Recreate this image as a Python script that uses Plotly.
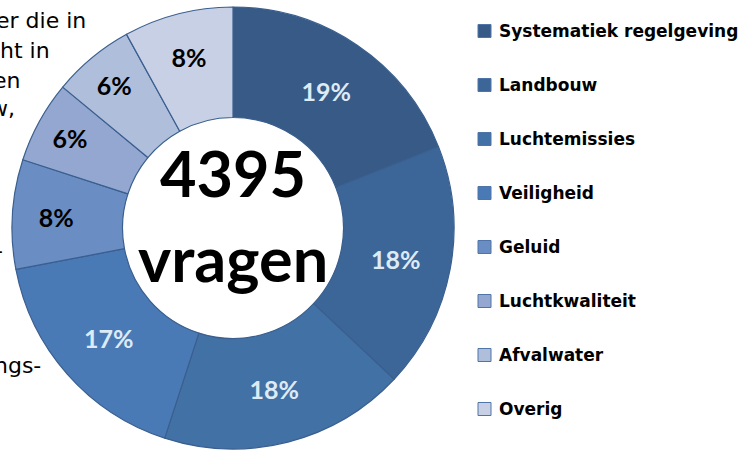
import plotly.graph_objects as go

categories = ["Systematiek regelgeving", "Landbouw", "Luchtemissies", "Veiligheid",
              "Geluid", "Luchtkwaliteit", "Afvalwater", "Overig"]
shares = [19, 18, 18, 17, 8, 6, 6, 8]
colors = ["#375A87", "#3D6698", "#4271A6", "#4A7AB5",
          "#6A8EC4", "#94A7D0", "#AFBEDB", "#C8D0E5"]
label_colors = ["#DDEBF7", "#DDEBF7", "#DDEBF7", "#DDEBF7",
                "#000000", "#000000", "#000000", "#000000"]
total_questions = 4395
side_text = [("er die in", 88, 20), ("ht in", 52, 50), ("en", 22, 80), ("w,", 17, 108),
             ("-", 5, 251), ("ngs-", 43, 365)]

W, H = 741, 453
cx, cy, r = 233, 228, 221

fig = go.Figure()
fig.add_trace(go.Pie(
    labels=categories, values=shares, sort=False, direction="clockwise", rotation=0,
    hole=0.5,
    marker=dict(colors=colors, line=dict(color="#3A5F8F", width=1.2)),
    texttemplate="%{value}%", textposition="inside", insidetextorientation="horizontal",
    insidetextfont=dict(family="Lato", size=25, color=label_colors, weight="bold"),
    domain=dict(x=[(cx - r) / W, (cx + r) / W], y=[(H - cy - r) / H, (H - cy + r) / H]),
    showlegend=False, hoverinfo="label+percent",
))

ann = []
ann.append(dict(x=cx / W, y=(H - 173) / H, xref="paper", yref="paper", text=f"<b>{total_questions}</b>",
                showarrow=False, font=dict(family="Lato", size=63, color="black"),
                xanchor="center", yanchor="middle"))
ann.append(dict(x=cx / W, y=(H - 257) / H, xref="paper", yref="paper", text="<b>vragen</b>",
                showarrow=False, font=dict(family="Lato", size=63, color="black"),
                xanchor="center", yanchor="middle"))

shapes = []
y0 = 31
step = 54
for i, (name, col) in enumerate(zip(categories, colors)):
    yc = y0 + i * step
    shapes.append(dict(type="rect", xref="paper", yref="paper",
                       x0=478 / W, x1=491 / W, y0=(H - yc - 6.5) / H, y1=(H - yc + 6.5) / H,
                       fillcolor=col, line=dict(color="#4F74A8", width=1)))
    ann.append(dict(x=497 / W, y=(H - yc) / H, xref="paper", yref="paper", text=f"<b>{name}</b>",
                    showarrow=False, font=dict(family="DejaVu Sans", size=17, color="black"),
                    xanchor="left", yanchor="middle"))

for txt, xr, yc in side_text:
    ann.append(dict(x=xr / W, y=(H - yc) / H, xref="paper", yref="paper", text=txt,
                    showarrow=False, font=dict(family="DejaVu Sans", size=22, color="black"),
                    xanchor="right", yanchor="middle"))

fig.update_layout(width=W, height=H, margin=dict(l=0, r=0, t=0, b=0),
                  paper_bgcolor="white", plot_bgcolor="white",
                  annotations=ann, shapes=shapes)
fig.write_html("out.html", config={"displayModeBar": False},
               post_script="document.body.style.margin='0';document.body.style.overflow='hidden';")
